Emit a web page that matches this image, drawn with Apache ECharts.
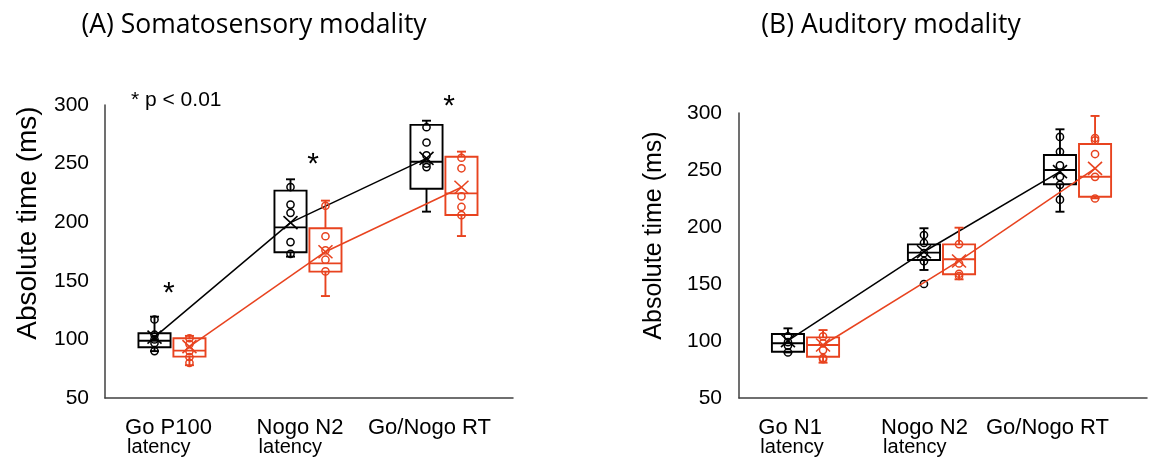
<!DOCTYPE html>
<html>
<head>
<meta charset="utf-8">
<script src="https://cdn.jsdelivr.net/npm/echarts@6/dist/echarts.min.js"></script>
<style>
html, body { margin: 0; padding: 0; background: #fff; }
#main { width: 1155px; height: 460px; }
</style>
</head>
<body>
<div id="main"></div>
<script>
// categories and ticks
var catsA = ['Go P100\nlatency', 'Nogo N2\nlatency', 'Go/Nogo RT'];
var catsB = ['Go N1\nlatency', 'Nogo N2\nlatency', 'Go/Nogo RT'];
var yTicks = [50, 100, 150, 200, 250, 300];

// (A) somatosensory: [min, Q1, median, Q3, max] per category
var boxA_go = [[90, 93.3, 98.9, 105.2, 119.4], [170.6, 174.3, 195.6, 226.9, 236.6], [209, 228.6, 251.6, 283, 286.6]];
var boxA_nogo = [[78, 85.3, 90.4, 101, 103], [137, 157.8, 164.9, 194.8, 218.4], [188.2, 206.1, 224.6, 255.9, 260.2]];
var meanA_go = [102, 199.6, 254.4];
var meanA_nogo = [93.8, 174.8, 229.8];
var ptsA_go = [[117, 104, 100, 97, 90], [230, 215, 208, 183, 173], [281, 268, 257, 250, 247]];
var ptsA_nogo = [[101, 96, 90, 85, 80], [214, 188, 176, 168, 158], [255, 246, 222, 213, 206]];
var starsA = [143, 253, 302.6];

// (B) auditory
var boxB_go = [[90, 90.6, 98, 106.1, 111.1], [162.3, 171, 177.5, 184.8, 198.9], [213.4, 237.5, 250, 263.2, 285.7]];
var boxB_nogo = [[81, 86.2, 96.5, 103.2, 109.6], [154.1, 158.5, 171.7, 184.8, 199.4], [225.2, 226.6, 244.1, 272.8, 297.4]];
var meanB_go = [100.3, 178.3, 248.5];
var meanB_nogo = [96.5, 170.2, 251.5];
var ptsB_go = [[104, 99, 96, 90], [193, 186, 177, 170, 150], [279, 266, 254, 244, 237, 224]];
var ptsB_nogo = [[104, 98, 92, 85, 84], [185, 168, 159, 157], [278, 276, 264, 244, 225]];

var BLACK = '#000000';
var RED = '#e8431f';
var AXIS = '#404040';
var FONT = 'Liberation Sans';

var myChart = echarts.init(document.getElementById('main'));

// draws box, whiskers, points, mean X and segment to next mean
function boxRender(pts, means, color, shift) {
	return function (params, api) {
		var i = params.dataIndex;
		var band = api.size([1, 0])[0];
		var half = band * 0.118;
		var cap = 4.5;
		var x = api.coord([i, api.value(3)])[0] + band * shift;
		function y(v) { return api.coord([i, v])[1]; }
		var ln = { stroke: color, lineWidth: 1.9, fill: null };
		var mn = y(api.value(1)), q1 = y(api.value(2)), md = y(api.value(3)), q3 = y(api.value(4)), mx = y(api.value(5));
		var kids = [
			{ type: 'rect', shape: { x: x - half, y: q3, width: half * 2, height: q1 - q3 }, style: { stroke: color, lineWidth: 1.9, fill: 'none' } },
			{ type: 'line', shape: { x1: x - half, y1: md, x2: x + half, y2: md }, style: ln },
			{ type: 'line', shape: { x1: x, y1: q3, x2: x, y2: mx }, style: ln },
			{ type: 'line', shape: { x1: x - cap, y1: mx, x2: x + cap, y2: mx }, style: ln },
			{ type: 'line', shape: { x1: x, y1: q1, x2: x, y2: mn }, style: ln },
			{ type: 'line', shape: { x1: x - cap, y1: mn, x2: x + cap, y2: mn }, style: ln }
		];
		pts[i].forEach(function (p) {
			kids.push({ type: 'circle', shape: { cx: x, cy: y(p), r: 3.6 }, style: { stroke: color, lineWidth: 1.5, fill: 'none' } });
		});
		var my = y(means[i]);
		kids.push({ type: 'line', shape: { x1: x - 7, y1: my - 6.5, x2: x + 7, y2: my + 6.5 }, style: { stroke: color, lineWidth: 1.6 } });
		kids.push({ type: 'line', shape: { x1: x - 7, y1: my + 6.5, x2: x + 7, y2: my - 6.5 }, style: { stroke: color, lineWidth: 1.6 } });
		if (i < means.length - 1) {
			var nx = api.coord([i + 1, means[i + 1]]);
			kids.push({ type: 'line', shape: { x1: x, y1: my, x2: nx[0] + band * shift, y2: nx[1] }, style: { stroke: color, lineWidth: 1.5 } });
		}
		return { type: 'group', children: kids };
	};
}

var starNudge = [-0.03, 0.03, 0.03];
function starRender(params, api) {
	var c = api.coord([api.value(0), api.value(1)]);
	var band = api.size([1, 0])[0];
	return {
		type: 'text',
		x: c[0] + band * starNudge[params.dataIndex], y: c[1] + 5,
		style: { text: '*', fontSize: 30, fontFamily: FONT, fill: '#000', align: 'center', verticalAlign: 'middle' }
	};
}

function boxData(boxes) {
	return boxes.map(function (b, i) { return [i].concat(b); });
}

function catAxis(cats, shifts, grid) {
	return {
		type: 'category', gridIndex: grid,
		data: cats.map(function (c, i) { return { value: c, textStyle: { padding: [0, shifts[i], 0, 0] } }; }),
		axisLine: { lineStyle: { color: AXIS, width: 1.5 } },
		axisTick: { show: false },
		axisLabel: {
			interval: 0, margin: 20, color: '#000',
			formatter: function (v) {
				var p = v.split('\n');
				return p.length > 1 ? '{m|' + p[0] + '}\n{s|' + p[1] + '}' : '{m|' + p[0] + '}';
			},
			rich: {
				m: { fontSize: 22, fontFamily: FONT, color: '#000', align: 'left', lineHeight: 20 },
				s: { fontSize: 20, fontFamily: FONT, color: '#000', align: 'left', lineHeight: 18, padding: [0, 0, 0, 2] }
			}
		}
	};
}

function valAxis(grid, margin, nameSize, nameGap, namePad) {
	return {
		type: 'value', gridIndex: grid,
		min: yTicks[0], max: yTicks[yTicks.length - 1], interval: yTicks[1] - yTicks[0],
		name: 'Absolute time (ms)', nameLocation: 'middle', nameGap: nameGap,
		nameTextStyle: { fontSize: nameSize, fontFamily: FONT, color: '#000', padding: [0, 0, 0, namePad] },
		axisLine: { show: true, lineStyle: { color: AXIS, width: 1.5 } },
		axisTick: { show: false },
		splitLine: { show: false },
		axisLabel: { fontSize: 21, fontFamily: FONT, color: '#000', margin: margin }
	};
}

option = {
	backgroundColor: '#fff',
	animation: false,
	grid: [
		{ left: 105, top: 105, width: 408, height: 293 },
		{ left: 739, top: 113, width: 408, height: 285 }
	],
	xAxis: [
		catAxis(catsA, [9, 18, 31], 0),
		catAxis(catsB, [32, 37, 63], 1)
	],
	yAxis: [
		valAxis(0, 16, 28, 63, 57),
		valAxis(1, 17, 25, 72, 40)
	],
	graphic: [
		{ type: 'text', x: 254, y: 25, style: { text: '(A) Somatosensory modality', fontSize: 26.5, fontFamily: 'Open Sans', fill: '#000', align: 'center', verticalAlign: 'middle' } },
		{ type: 'text', x: 891, y: 25, style: { text: '(B) Auditory modality', fontSize: 26.5, fontFamily: 'Open Sans', fill: '#000', align: 'center', verticalAlign: 'middle' } },
		{ type: 'text', x: 131, y: 90, style: { text: '* p < 0.01', fontSize: 21, fontFamily: FONT, fill: '#000' } }
	],
	series: [
		{ type: 'custom', name: 'Go A', xAxisIndex: 0, yAxisIndex: 0, renderItem: boxRender(ptsA_go, meanA_go, BLACK, -0.136), data: boxData(boxA_go), encode: { x: 0, y: [1, 2, 3, 4, 5] } },
		{ type: 'custom', name: 'Nogo A', xAxisIndex: 0, yAxisIndex: 0, renderItem: boxRender(ptsA_nogo, meanA_nogo, RED, 0.121), data: boxData(boxA_nogo), encode: { x: 0, y: [1, 2, 3, 4, 5] } },
		{ type: 'custom', name: 'Stars A', xAxisIndex: 0, yAxisIndex: 0, renderItem: starRender, data: starsA.map(function (v, i) { return [i, v]; }) },
		{ type: 'custom', name: 'Go B', xAxisIndex: 1, yAxisIndex: 1, renderItem: boxRender(ptsB_go, meanB_go, BLACK, -0.140), data: boxData(boxB_go), encode: { x: 0, y: [1, 2, 3, 4, 5] } },
		{ type: 'custom', name: 'Nogo B', xAxisIndex: 1, yAxisIndex: 1, renderItem: boxRender(ptsB_nogo, meanB_nogo, RED, 0.118), data: boxData(boxB_nogo), encode: { x: 0, y: [1, 2, 3, 4, 5] } }
	]
};
myChart.setOption(option);
</script>
</body>
</html>
